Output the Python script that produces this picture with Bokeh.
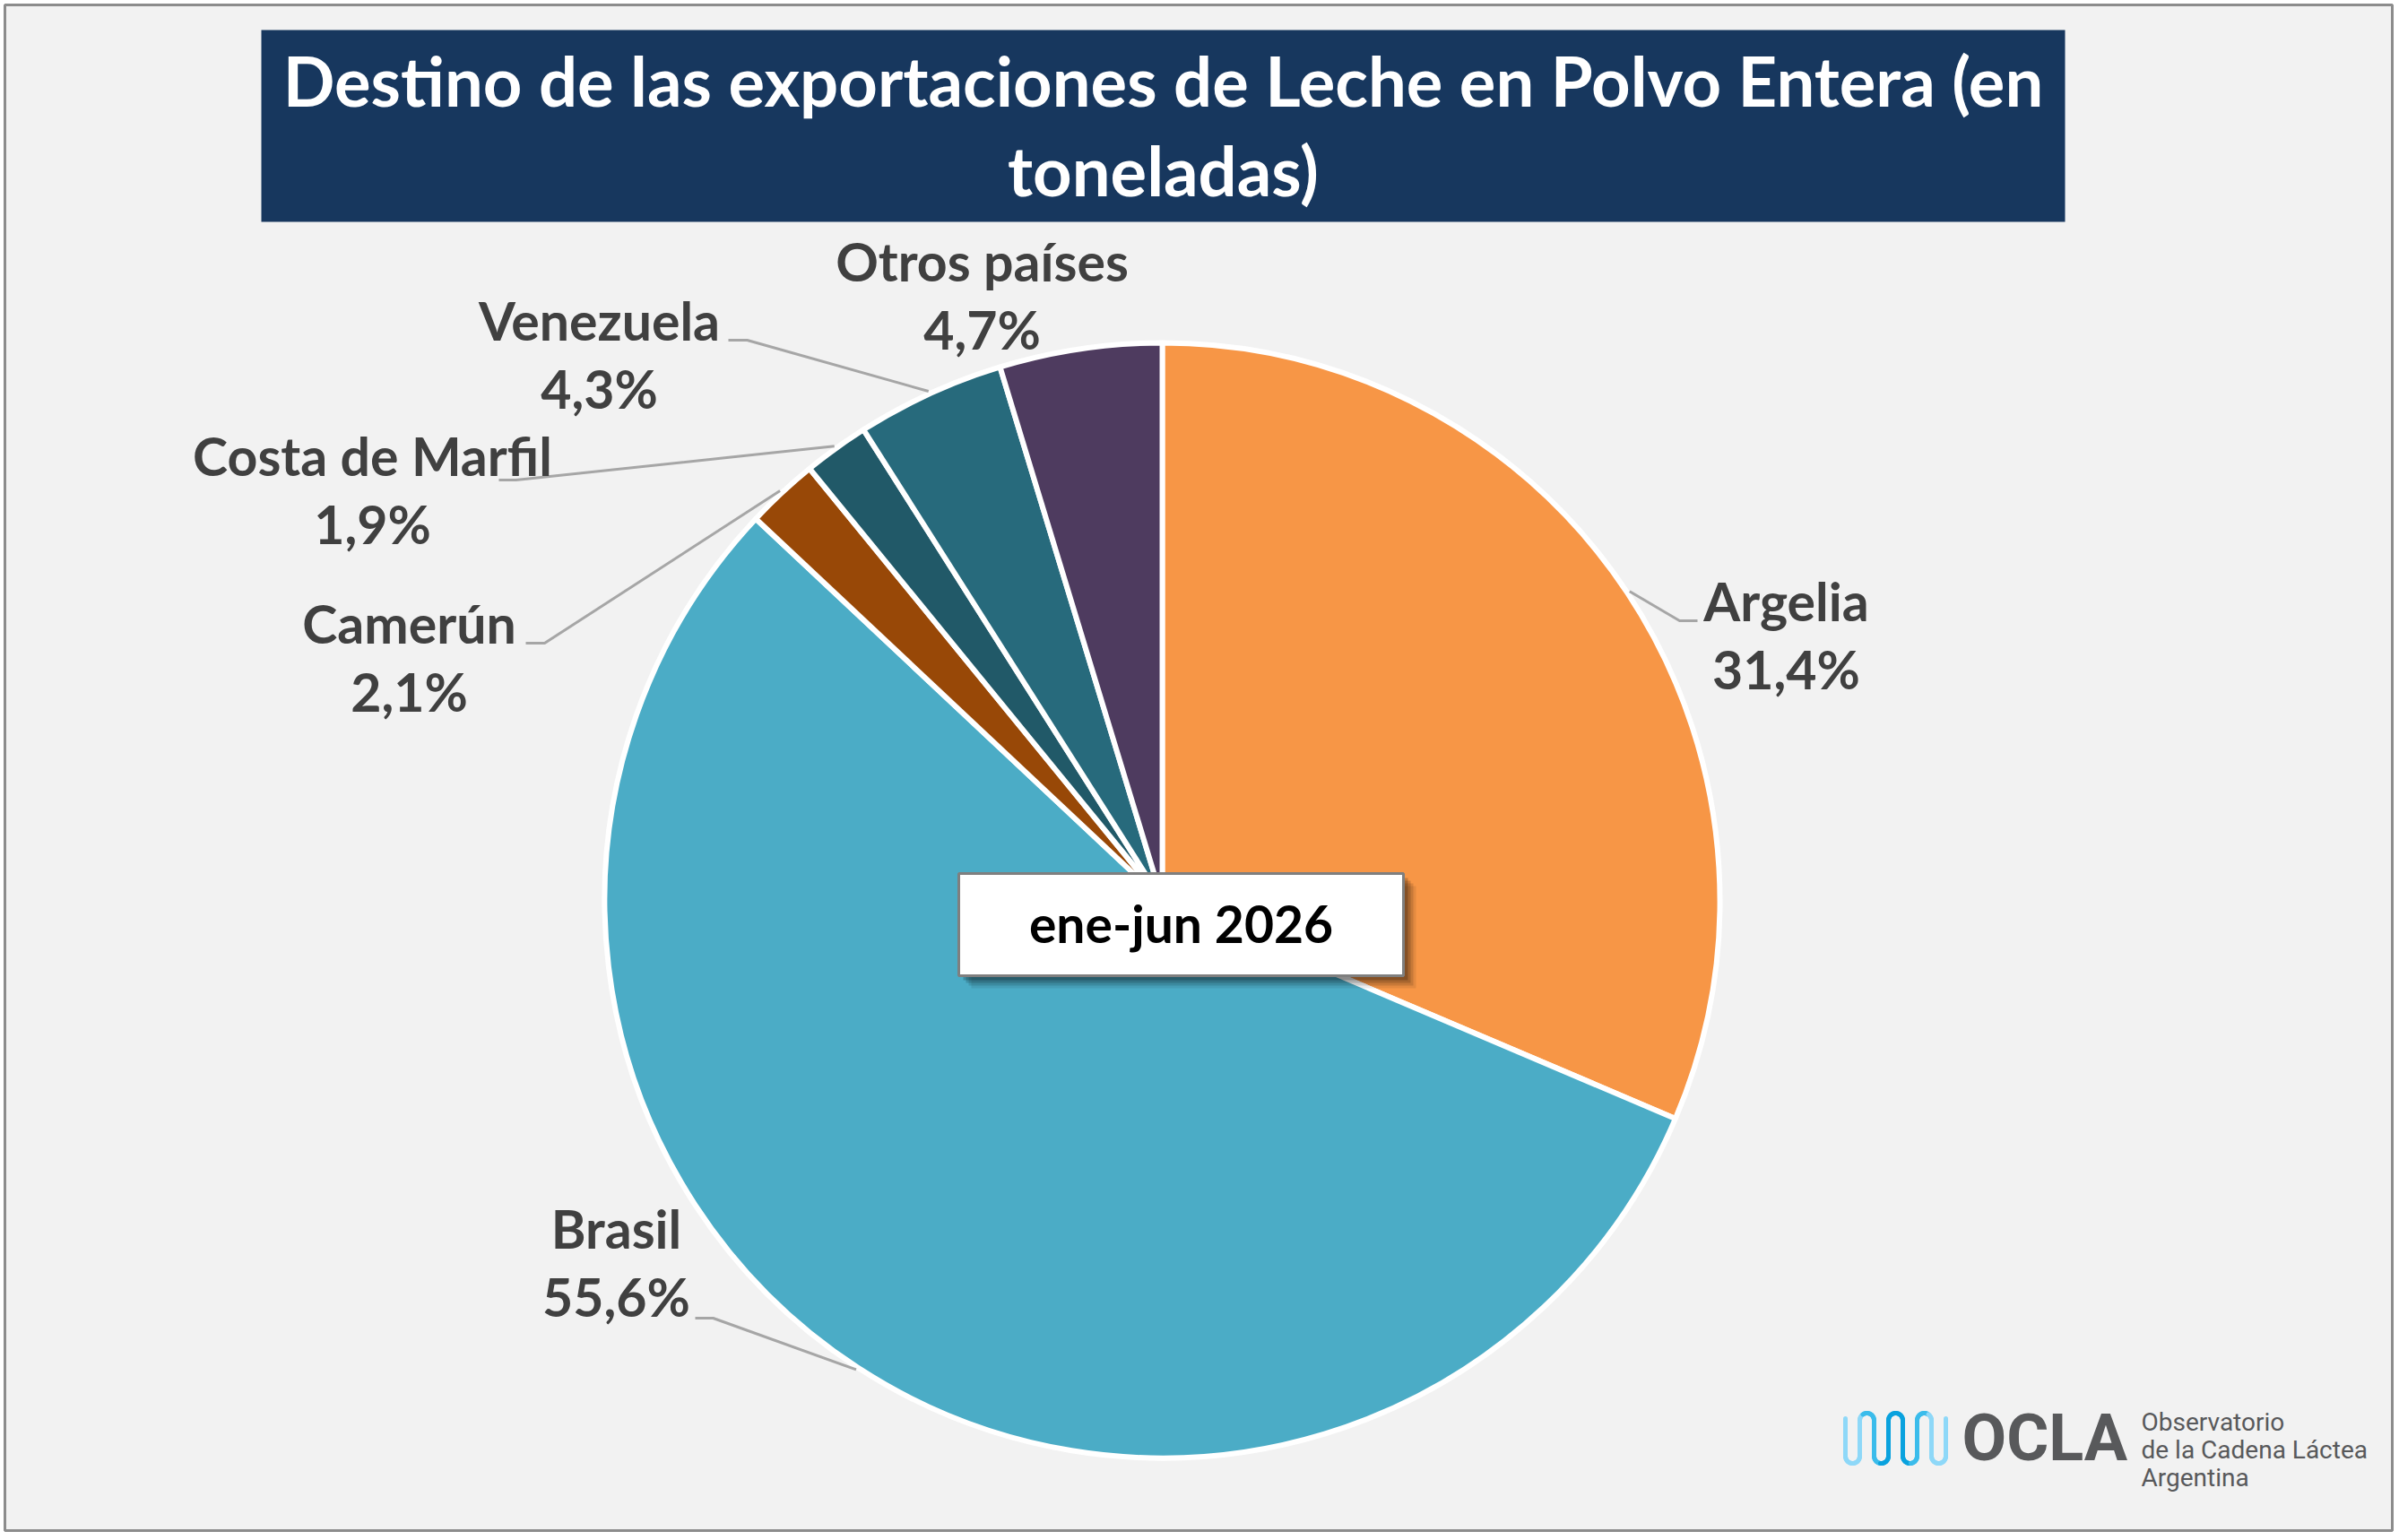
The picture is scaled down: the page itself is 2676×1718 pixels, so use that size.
import numpy as np
from bokeh.core.properties import value
from bokeh.embed import file_html
from bokeh.models import ColumnDataSource, Range1d
from bokeh.plotting import figure
from bokeh.resources import INLINE

# data
countries = ["Argelia", "Brasil", "Camerún", "Costa de Marfil", "Venezuela", "Otros países"]
shares = [31.4, 55.6, 2.1, 1.9, 4.3, 4.7]
share_labels = ["31,4%", "55,6%", "2,1%", "1,9%", "4,3%", "4,7%"]
colors = ["#F79646", "#4BACC6", "#984807", "#215968", "#276A7C", "#4E3B5F"]
title_lines = ["Destino de las exportaciones de Leche en Polvo Entera (en", "toneladas)"]
period = "ene-jun 2026"

# label layout in page pixels: text centre x, baseline of first line, leader elbow, leader end
label_x = [1992, 687, 456, 415, 668, 1095]
label_base = [692, 1392, 717, 530, 379, 313]
elbows = [(1873, 692), (795, 1470), (607, 717), (575, 535), (833, 379), None]
ends = [(1893, 692), (775, 1470), (586, 717), (556, 535), (812, 379), None]

W, H = 2672, 1712
FONT = "Lato"
TXT = "#404040"
CX, CY, R = 1296, 1004, 622
LINE_GAP = 76


def py(y):
    # page row -> data y (y axis points up)
    return H - y


def text_at(x, base, txt, size, color, font=FONT, style="bold", align="center"):
    # bokeh sits the alphabetic baseline a bit low, pull it up by a fraction of the size
    p.text(x=[x], y=[py(base - 0.38 * size)], text=[txt], text_color=color,
           text_font=value(font), text_font_style=style, text_font_size=f"{size}px",
           text_align=align, text_baseline="alphabetic")


p = figure(width=W, height=H, x_range=Range1d(0, W), y_range=Range1d(0, H),
           output_backend="svg", toolbar_location=None, min_border=0)
p.axis.visible = False
p.grid.visible = False
p.outline_line_color = None
p.background_fill_color = "white"
p.border_fill_color = "white"

# chart area
p.quad(left=5, right=2668, top=py(5), bottom=py(1707), fill_color="#F2F2F2",
       line_color="#8C8C8C", line_width=3)

# title banner
p.quad(left=291, right=2303, top=py(33), bottom=py(247), fill_color="#17375E", line_color=None)
for i, line in enumerate(title_lines):
    text_at(1297, 118 + i * 100, line, 76, "white")

# pie
frac = np.array(shares) / sum(shares)
cum = np.concatenate([[0], np.cumsum(frac)])
start = np.pi / 2 - 2 * np.pi * cum[:-1]
end = np.pi / 2 - 2 * np.pi * cum[1:]
src = ColumnDataSource(dict(start=start, end=end, color=colors, name=countries))
p.wedge(x=CX, y=py(CY), radius=R, start_angle="start", end_angle="end", direction="clock",
        fill_color="color", line_color="white", line_width=6, source=src)

# labels and leader lines
mid = np.pi / 2 - 2 * np.pi * (cum[:-1] + frac / 2)
for i, name in enumerate(countries):
    if elbows[i] is not None:
        ex = CX + (R + 3) * np.cos(mid[i])
        ey = py(CY) + (R + 3) * np.sin(mid[i])
        p.line([ex, elbows[i][0], ends[i][0]], [ey, py(elbows[i][1]), py(ends[i][1])],
               line_color="#A6A6A6", line_width=3)
    text_at(label_x[i], label_base[i], name, 59, TXT)
    text_at(label_x[i], label_base[i] + LINE_GAP, share_labels[i], 59, TXT)

# period box with shadow
for off, a in [(14, 0.08), (11, 0.12), (8, 0.16), (5, 0.2)]:
    p.quad(left=1069 + off, right=1565 + off, top=py(974 + off), bottom=py(1088 + off),
           fill_color="black", fill_alpha=a, line_color=None)
p.quad(left=1069, right=1565, top=py(974), bottom=py(1088), fill_color="white",
       line_color="#7F7F7F", line_width=3)
text_at(1317, 1051, period, 57, "black")

# OCLA logo
step, r = 16, 8
top, bottom = py(1576), py(1632)
xs, ys = [2058.0], [float(top - 6)]
for i in range(7):
    xa = 2058 + i * step
    if i % 2 == 0:
        cy, t = bottom + r, np.linspace(np.pi, 2 * np.pi, 14)
    else:
        cy, t = top - r, np.linspace(np.pi, 0, 14)
    xs += list(xa + r + r * np.cos(t))
    ys += list(cy + r * np.sin(t))
xs.append(2058 + 7 * step)
ys.append(top - 6)
xs, ys = np.array(xs), np.array(ys)
pos = (xs - xs.min()) / (xs.max() - xs.min())
seg_col = ["#8ED8F8" if abs(v - 0.5) > 0.33 else ("#3BBCEB" if abs(v - 0.5) > 0.15 else "#0AA2DE")
           for v in (pos[:-1] + pos[1:]) / 2]
p.segment(x0=xs[:-1], y0=ys[:-1], x1=xs[1:], y1=ys[1:], line_color=seg_col, line_width=5,
          line_cap="round")
text_at(2188, 1631, "OCLA", 72, "#58595B", font="Roboto", align="left")
for i, t in enumerate(["Observatorio", "de la Cadena Láctea", "Argentina"]):
    text_at(2388, 1597 + i * 31, t, 28, "#58595B", font="Roboto", style="normal", align="left")

open("out.html", "w").write(file_html(p, INLINE))
